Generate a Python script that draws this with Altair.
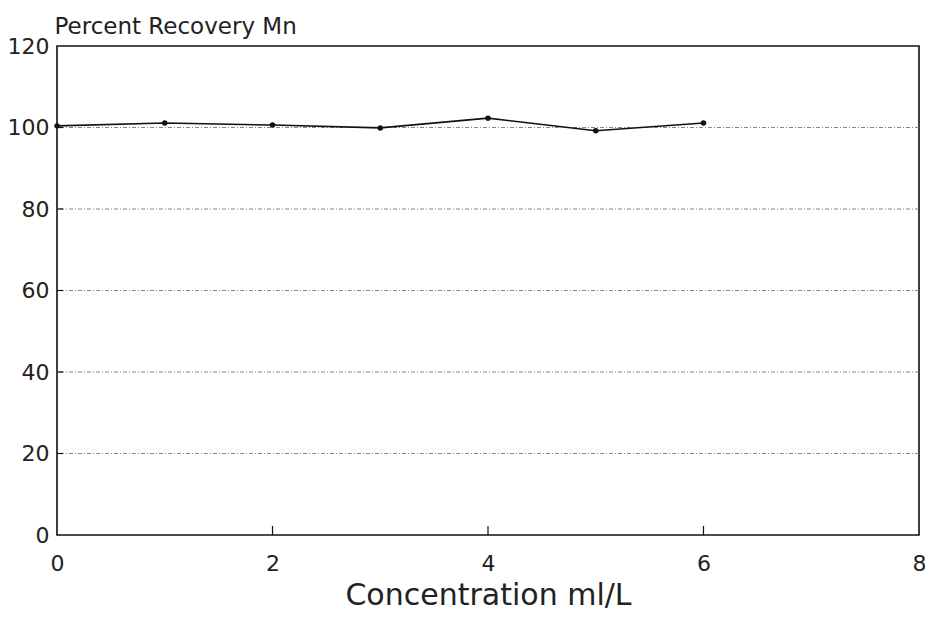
import altair as alt
import pandas as pd

concentration = [0, 1, 2, 3, 4, 5, 6]
recovery = [100.4, 101.1, 100.6, 99.9, 102.3, 99.2, 101.1]
x_ticks = [0, 2, 4, 6, 8]
y_ticks = [0, 20, 40, 60, 80, 100, 120]
x_inner_ticks = [2, 4, 6]

W, H = 862, 489
FONT = "DejaVu Sans"

df = pd.DataFrame({"x": concentration, "y": recovery})
ticks_df = pd.DataFrame({"t": x_inner_ticks})
yt_df = pd.DataFrame({"v": y_ticks[1:-1]})

xscale = alt.Scale(domain=[0, 8], nice=False, zero=False)
yscale = alt.Scale(domain=[0, 120], nice=False)

xaxis = alt.Axis(
    values=x_ticks, grid=False, domain=False, ticks=False, format="d",
    labelFont=FONT, labelFontSize=22, labelColor="#222", labelPadding=18,
    labelFlush=False,
    title="Concentration ml/L", titleFont=FONT, titleFontSize=30,
    titleFontWeight="normal", titleColor="#222",
    titleY=69, titleBaseline="alphabetic",
)
yaxis = alt.Axis(
    values=y_ticks, domain=False, ticks=False, grid=False, format="d",
    labelFont=FONT, labelFontSize=22, labelColor="#222", labelPadding=8,
    labelFlush=False,
    title="Percent Recovery Mn", titleFont=FONT, titleFontSize=23,
    titleFontWeight="normal", titleColor="#222", titleAngle=0,
    titleAlign="left", titleBaseline="alphabetic", titleX=-3, titleY=-13,
)

grid = alt.Chart(yt_df).mark_rule(
    color="#777", strokeWidth=0.9, strokeDash=[4, 2, 1, 2]
).encode(
    y=alt.Y("v:Q", scale=yscale, axis=yaxis),
)

ytick_marks = alt.Chart(yt_df).mark_rule(color="#111", strokeWidth=1.2).encode(
    y=alt.Y("v:Q", scale=yscale),
    x=alt.value(0), x2=alt.value(6),
)

xtick_marks = alt.Chart(ticks_df).mark_rule(color="#111", strokeWidth=1.2).encode(
    x=alt.X("t:Q", scale=xscale, axis=xaxis),
    y=alt.value(H), y2=alt.value(H - 9),
)

line = alt.Chart(df).mark_line(color="#111", strokeWidth=1.6).encode(
    x=alt.X("x:Q", scale=xscale),
    y=alt.Y("y:Q", scale=yscale),
)
pts = alt.Chart(df).mark_circle(color="#111", opacity=1, size=30).encode(
    x=alt.X("x:Q", scale=xscale),
    y=alt.Y("y:Q", scale=yscale),
)

chart = alt.layer(grid, ytick_marks, xtick_marks, line, pts).properties(
    width=W, height=H,
    autosize=alt.AutoSizeParams(type="none"),
    padding={"left": 49, "top": 38, "right": 6, "bottom": 77},
    background="white",
).configure_view(stroke="#111", strokeWidth=1.6)

chart.save("out.html", embed_options={"renderer": "svg", "actions": False})
